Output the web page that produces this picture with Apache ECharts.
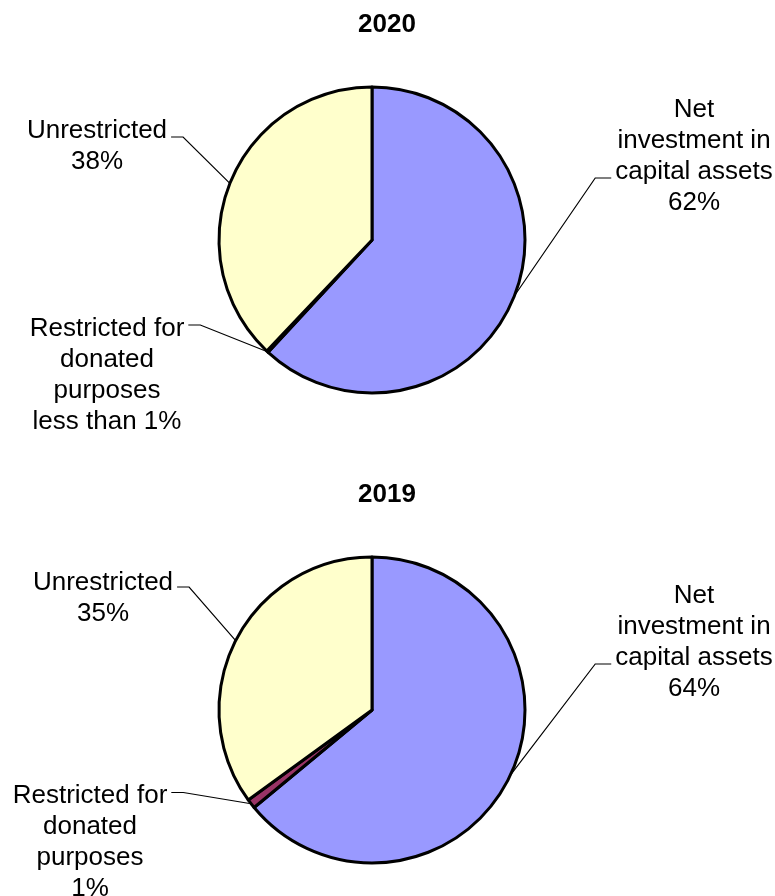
<!DOCTYPE html>
<html>
<head>
<meta charset="utf-8">
<script src="https://cdn.jsdelivr.net/npm/echarts@6/dist/echarts.min.js"></script>
<style>
  html, body { margin: 0; padding: 0; background: #fff; }
  #chart { width: 775px; height: 896px; }
</style>
</head>
<body>
<div id="chart"></div>
<script>
// Net position composition, two fiscal years
const categories = ['Net\ninvestment in\ncapital assets', 'Restricted for\ndonated\npurposes', 'Unrestricted'];
const years = ['2020', '2019'];
const values2020 = [62, 0.2, 38];
const values2019 = [64, 1, 35];
const pctLabels2020 = ['62%', 'less than 1%', '38%'];
const pctLabels2019 = ['64%', '1%', '35%'];
const colors = ['#9999FF', '#993366', '#FFFFCC'];

const FONT_FAMILY = 'Liberation Sans, Arial, sans-serif';
const FONT_SIZE = 26;
const LINE_H = 31;

// label placement per slice: centre x, top y, which text line the leader meets,
// its vertical offset inside that line, and the side of the text it leaves from
const labelSpots2020 = [
  { x: 694, y: 94.5, line: 2, dy: 21.5, side: 'left' },
  { x: 107, y: 313.5, line: 0, dy: 11.5, side: 'right' },
  { x: 97, y: 115.5, line: 0, dy: 21.5, side: 'right' }
];
const labelSpots2019 = [
  { x: 694, y: 580.5, line: 2, dy: 21.5, side: 'left' },
  { x: 90, y: 780, line: 0, dy: 12.5, side: 'right' },
  { x: 103, y: 567.5, line: 0, dy: 19.5, side: 'right' }
];

// width of a single text line, used to end the leader right at the words
const measureCtx = document.createElement('canvas').getContext('2d');
measureCtx.font = FONT_SIZE + 'px ' + FONT_FAMILY;
function lineWidth(txt) { return measureCtx.measureText(txt).width; }

function labelText(i, pcts) { return categories[i] + '\n' + pcts[i]; }

function pieSeries(values, pcts, center, spots) {
  return {
    type: 'pie',
    center: center,
    radius: 153,
    startAngle: 90,
    clockwise: true,
    animation: false,
    silent: true,
    itemStyle: { borderColor: '#000', borderWidth: 3 },
    label: {
      show: true,
      position: 'outside',
      color: '#000',
      fontFamily: FONT_FAMILY,
      fontSize: FONT_SIZE,
      lineHeight: LINE_H,
      align: 'center',
      formatter: function (p) { return labelText(p.dataIndex, pcts); }
    },
    labelLine: {
      show: true,
      length: 20,
      length2: 20,
      lineStyle: { color: '#000', width: 1.2 }
    },
    labelLayout: function (p) {
      const s = spots[p.dataIndex];
      const lines = labelText(p.dataIndex, pcts).split('\n');
      const w = lineWidth(lines[s.line]);
      const ly = s.y + LINE_H * s.line + s.dy;
      const edge = p.labelLinePoints ? p.labelLinePoints[0] : null;
      const out = { x: s.x, y: s.y, align: 'center', verticalAlign: 'top' };
      if (edge) {
        let endX, midX;
        if (s.side === 'right') {
          endX = s.x + w / 2 + 4;
          midX = endX + 12;
        } else {
          endX = s.x - w / 2 - 4;
          midX = endX - 16;
        }
        out.labelLinePoints = [[edge[0], edge[1]], [midX, ly], [endX, ly]];
      }
      return out;
    },
    data: values.map((v, i) => ({
      name: categories[i],
      value: v,
      itemStyle: { color: colors[i] }
    }))
  };
}

const titleStyle = { fontFamily: FONT_FAMILY, fontSize: 26, fontWeight: 'bold', color: '#000' };

const chart = echarts.init(document.getElementById('chart'), null, { renderer: 'canvas' });
chart.setOption({
  backgroundColor: '#fff',
  title: [
    { text: years[0], left: 382, top: 7, textAlign: 'center', textStyle: titleStyle },
    { text: years[1], left: 382, top: 477, textAlign: 'center', textStyle: titleStyle }
  ],
  series: [
    pieSeries(values2020, pctLabels2020, [372, 240], labelSpots2020),
    pieSeries(values2019, pctLabels2019, [372, 710], labelSpots2019)
  ]
});
</script>
</body>
</html>
